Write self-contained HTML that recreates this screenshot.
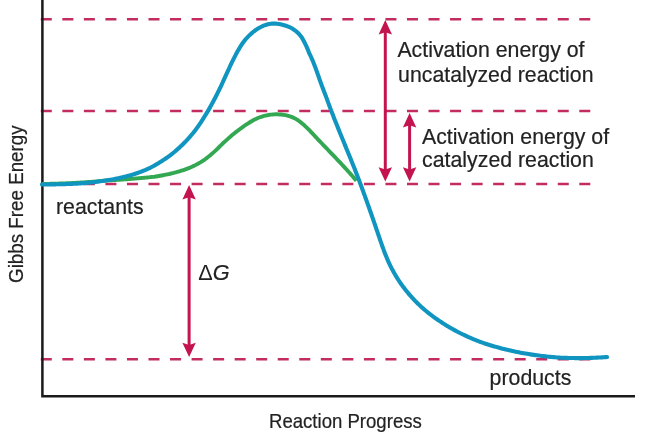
<!DOCTYPE html>
<html><head><meta charset="utf-8"><style>
html,body{margin:0;padding:0;background:#fff;width:655px;height:438px;overflow:hidden}
svg{display:block;filter:blur(0.3px)}
</style></head><body>
<svg width="655" height="438" viewBox="0 0 655 438">
<line x1="40.8" y1="19.2" x2="590.5" y2="19.2" stroke="#c22c60" stroke-width="2.5" stroke-dasharray="11 10.54"/>
<line x1="40.8" y1="111" x2="590.5" y2="111" stroke="#c22c60" stroke-width="2.5" stroke-dasharray="11 10.54"/>
<line x1="40.8" y1="183.9" x2="590.5" y2="183.9" stroke="#c22c60" stroke-width="2.5" stroke-dasharray="11 10.54"/>
<line x1="40.8" y1="359.3" x2="590.5" y2="359.3" stroke="#c22c60" stroke-width="2.5" stroke-dasharray="11 10.54"/>
<path d="M42.4,0 L42.4,396.3 L635,396.3" fill="none" stroke="#1a1a1a" stroke-width="2.5"/>
<path d="M42.00,184.00 L43.46,183.98 L44.91,183.95 L46.36,183.92 L47.82,183.89 L49.27,183.86 L50.72,183.82 L52.17,183.79 L53.62,183.75 L55.07,183.71 L56.52,183.66 L57.97,183.61 L59.42,183.56 L60.87,183.51 L62.31,183.46 L63.76,183.40 L65.20,183.34 L66.65,183.28 L68.09,183.22 L69.54,183.15 L70.98,183.08 L72.42,183.01 L73.87,182.94 L75.31,182.86 L76.75,182.79 L78.19,182.71 L79.63,182.62 L81.07,182.54 L82.51,182.45 L83.95,182.36 L85.39,182.26 L86.83,182.17 L88.27,182.07 L89.71,181.97 L91.15,181.86 L92.59,181.76 L94.02,181.65 L95.46,181.54 L96.90,181.42 L98.34,181.30 L99.77,181.18 L101.21,181.06 L102.65,180.94 L104.09,180.81 L105.52,180.68 L106.96,180.54 L108.40,180.41 L109.83,180.27 L111.27,180.19 L112.71,180.11 L114.14,180.04 L115.58,179.96 L117.02,179.87 L118.46,179.79 L119.89,179.69 L121.33,179.60 L122.77,179.50 L124.21,179.41 L125.64,179.31 L127.08,179.20 L128.52,179.10 L129.96,178.99 L131.40,178.88 L132.84,178.76 L134.28,178.65 L135.72,178.53 L137.16,178.40 L138.60,178.28 L140.04,178.15 L141.48,178.01 L142.92,177.89 L144.36,177.75 L145.81,177.61 L147.25,177.46 L148.69,177.32 L150.14,177.18 L151.58,177.02 L153.02,176.86 L154.47,176.70 L155.91,176.49 L157.35,176.25 L158.80,176.00 L160.24,175.75 L161.67,175.49 L163.11,175.22 L164.54,174.94 L165.97,174.65 L167.39,174.35 L168.81,174.05 L170.23,173.73 L171.64,173.40 L173.05,173.06 L174.45,172.70 L175.85,172.34 L177.24,171.96 L178.62,171.56 L179.99,171.15 L181.36,170.73 L182.72,170.29 L184.08,169.83 L185.42,169.36 L186.76,168.86 L188.08,168.35 L189.40,167.82 L190.71,167.28 L192.01,166.71 L193.29,166.12 L194.57,165.51 L195.83,164.88 L197.08,164.22 L198.32,163.54 L199.55,162.84 L200.77,162.12 L201.97,161.37 L203.16,160.59 L204.33,159.79 L205.49,158.97 L206.64,158.12 L207.78,157.25 L208.90,156.35 L210.02,155.44 L211.13,154.52 L212.23,153.57 L213.32,152.62 L214.40,151.65 L215.48,150.65 L216.56,149.60 L217.63,148.55 L218.70,147.50 L219.77,146.43 L220.84,145.37 L221.91,144.29 L222.97,143.29 L224.05,142.31 L225.12,141.31 L226.20,140.32 L227.28,139.34 L228.36,138.36 L229.46,137.41 L230.56,136.45 L231.67,135.51 L232.78,134.58 L233.91,133.66 L235.04,132.77 L236.19,131.88 L237.34,130.99 L238.51,130.13 L239.68,129.28 L240.86,128.39 L242.06,127.50 L243.26,126.61 L244.47,125.75 L245.70,124.91 L246.94,124.08 L248.19,123.28 L249.45,122.48 L250.72,121.72 L252.00,120.97 L253.30,120.24 L254.60,119.53 L255.93,118.91 L257.26,118.33 L258.60,117.78 L259.96,117.27 L261.33,116.79 L262.71,116.35 L264.10,115.97 L265.50,115.61 L266.91,115.28 L268.32,114.99 L269.75,114.75 L271.17,114.57 L272.60,114.43 L274.03,114.33 L275.46,114.28 L276.88,114.28 L278.31,114.34 L279.72,114.43 L281.13,114.54 L282.53,114.70 L283.93,114.89 L285.31,115.14 L286.67,115.43 L288.03,115.78 L289.36,116.17 L290.68,116.61 L291.98,117.09 L293.26,117.62 L294.52,118.21 L295.75,118.87 L296.96,119.61 L298.14,120.40 L299.31,121.22 L300.45,122.08 L301.58,122.97 L302.69,123.89 L303.78,124.84 L304.86,125.82 L305.93,126.82 L306.98,127.83 L308.02,128.87 L309.05,129.92 L310.08,130.98 L311.10,132.05 L312.11,133.12 L313.12,134.20 L314.12,135.28 L315.13,136.36 L316.13,137.43 L317.13,138.49 L318.13,139.56 L319.13,140.61 L320.14,141.67 L321.14,142.72 L322.13,143.76 L323.13,144.81 L324.13,145.85 L325.13,146.89 L326.12,147.92 L327.12,148.96 L328.11,149.99 L329.11,151.03 L330.10,152.06 L331.09,153.09 L332.08,154.12 L333.07,155.15 L334.06,156.19 L335.05,157.22 L336.03,158.25 L337.02,159.29 L338.00,160.33 L338.99,161.37 L339.97,162.41 L340.95,163.45 L341.92,164.50 L342.90,165.55 L343.88,166.61 L344.85,167.67 L345.82,168.73 L346.79,169.80 L347.76,170.87 L348.73,171.95 L349.69,173.03 L350.66,174.12 L351.62,175.22 L352.58,176.32 L353.54,177.43 L354.49,178.54 L355.45,179.67 L356.40,180.80" fill="none" stroke="#33a852" stroke-width="3.9" stroke-linecap="butt"/>
<path d="M42.00,184.50 L43.64,184.48 L45.28,184.47 L46.92,184.45 L48.57,184.43 L50.22,184.41 L51.87,184.39 L53.53,184.36 L55.19,184.34 L56.85,184.31 L58.52,184.27 L60.19,184.24 L61.86,184.19 L63.53,184.15 L65.21,184.10 L66.88,184.04 L68.56,183.98 L70.24,183.92 L71.92,183.85 L73.60,183.77 L75.28,183.68 L76.97,183.59 L78.65,183.49 L80.33,183.39 L82.01,183.27 L83.69,183.15 L85.37,183.02 L87.05,182.87 L88.73,182.72 L90.41,182.55 L92.09,182.36 L93.76,182.15 L95.43,181.93 L97.10,181.70 L98.77,181.46 L100.44,181.22 L102.10,181.01 L103.76,180.78 L105.42,180.54 L107.07,180.30 L108.72,180.04 L110.37,179.75 L112.01,179.46 L113.65,179.16 L115.28,178.84 L116.91,178.50 L118.53,178.14 L120.15,177.78 L121.77,177.43 L123.37,177.05 L124.98,176.66 L126.57,176.26 L128.17,175.85 L129.75,175.42 L131.33,174.97 L132.90,174.51 L134.47,174.01 L136.02,173.51 L137.57,172.98 L139.12,172.43 L140.65,171.87 L142.18,171.28 L143.70,170.67 L145.21,170.04 L146.71,169.39 L148.21,168.72 L149.69,168.04 L151.17,167.29 L152.64,166.51 L154.09,165.72 L155.54,164.91 L156.98,164.09 L158.41,163.24 L159.83,162.37 L161.23,161.48 L162.63,160.58 L164.02,159.66 L165.39,158.73 L166.76,157.77 L168.11,156.80 L169.45,155.83 L170.78,154.83 L172.10,153.81 L173.40,152.77 L174.70,151.72 L175.98,150.63 L177.24,149.52 L178.50,148.38 L179.74,147.24 L180.97,146.08 L182.18,144.91 L183.39,143.71 L184.57,142.52 L185.75,141.31 L186.90,140.07 L188.05,138.83 L189.18,137.58 L190.29,136.31 L191.40,135.03 L192.48,133.74 L193.55,132.44 L194.60,131.13 L195.64,129.77 L196.66,128.39 L197.67,127.00 L198.66,125.60 L199.63,124.20 L200.59,122.78 L201.53,121.36 L202.45,119.91 L203.36,118.47 L204.24,117.01 L205.13,115.54 L206.06,114.07 L206.97,112.59 L207.86,111.11 L208.75,109.62 L209.61,108.12 L210.46,106.61 L211.31,105.11 L212.14,103.59 L212.96,102.07 L213.76,100.57 L214.56,99.04 L215.35,97.53 L216.12,96.01 L216.89,94.48 L217.66,92.95 L218.40,91.43 L219.15,89.90 L219.89,88.38 L220.63,86.85 L221.36,85.31 L222.05,83.78 L222.75,82.25 L223.45,80.72 L224.14,79.18 L224.83,77.65 L225.53,76.11 L226.21,74.58 L226.91,73.06 L227.61,71.54 L228.31,70.03 L229.01,68.52 L229.72,67.00 L230.44,65.48 L231.15,63.95 L231.88,62.43 L232.62,60.90 L233.37,59.38 L234.13,57.86 L234.90,56.34 L235.69,54.84 L236.50,53.34 L237.31,51.85 L238.11,50.38 L238.95,48.92 L239.81,47.48 L240.70,46.05 L241.62,44.65 L242.57,43.27 L243.56,41.92 L244.58,40.59 L245.65,39.30 L246.75,38.03 L247.89,36.80 L249.08,35.61 L250.30,34.45 L251.56,33.34 L252.80,32.27 L254.06,31.25 L255.36,30.28 L256.69,29.36 L258.04,28.50 L259.41,27.70 L260.79,26.96 L262.21,26.29 L263.62,25.69 L265.03,25.16 L266.45,24.70 L267.89,24.31 L269.33,24.01 L270.79,23.79 L272.26,23.66 L273.85,23.61 L275.44,23.65 L277.04,23.79 L278.71,24.01 L280.54,24.32 L282.35,24.72 L284.14,25.19 L285.92,25.73 L287.67,26.35 L289.41,27.03 L290.84,27.79 L292.23,28.60 L293.60,29.47 L294.93,30.40 L296.23,31.38 L297.44,32.40 L298.50,33.47 L299.52,34.59 L300.49,35.74 L301.42,36.93 L302.19,38.16 L302.93,39.42 L303.64,40.71 L304.32,42.04 L304.98,43.40 L305.67,44.78 L306.34,46.20 L306.98,47.64 L307.60,49.10 L308.19,50.59 L308.77,52.10 L309.46,53.63 L310.22,55.17 L310.95,56.74 L311.66,58.32 L312.36,59.91 L313.02,61.52 L313.69,63.14 L314.31,64.77 L314.94,66.40 L315.56,68.04 L316.15,69.69 L316.76,71.34 L317.34,73.00 L317.91,74.65 L318.50,76.31 L319.07,77.96 L319.64,79.61 L320.23,81.25 L320.81,82.89 L321.41,84.52 L322.01,86.14 L322.61,87.76 L323.22,89.37 L323.83,90.98 L324.45,92.58 L325.08,94.18 L325.71,95.77 L326.30,97.36 L326.86,98.94 L327.43,100.52 L328.01,102.10 L328.58,103.67 L329.16,105.23 L329.75,106.80 L330.33,108.36 L330.92,109.91 L331.51,111.46 L332.11,113.01 L332.71,114.56 L333.31,116.10 L333.91,117.64 L334.51,119.18 L335.12,120.72 L335.73,122.25 L336.34,123.78 L336.95,125.31 L337.56,126.84 L338.18,128.37 L338.80,129.89 L339.41,131.42 L340.03,132.94 L340.65,134.46 L341.27,135.98 L341.90,137.50 L342.52,139.02 L343.14,140.55 L343.77,142.07 L344.39,143.59 L345.01,145.11 L345.64,146.63 L346.26,148.15 L346.88,149.67 L347.51,151.20 L348.13,152.72 L348.75,154.25 L349.38,155.77 L350.00,157.30 L350.62,158.83 L351.24,160.37 L351.85,161.90 L352.47,163.44 L353.08,164.98 L353.70,166.52 L354.31,168.06 L354.92,169.61 L355.53,171.16 L356.13,172.72 L356.74,174.27 L357.34,175.83 L357.94,177.40 L358.54,178.97 L359.13,180.53 L359.73,182.11 L360.32,183.68 L360.91,185.26 L361.50,186.84 L362.08,188.42 L362.67,190.00 L363.25,191.59 L363.83,193.18 L364.40,194.77 L364.98,196.36 L365.55,197.95 L366.13,199.54 L366.70,201.13 L367.27,202.73 L367.83,204.32 L368.40,205.92 L368.96,207.51 L369.52,209.11 L370.08,210.70 L370.64,212.30 L371.20,213.89 L371.75,215.49 L372.30,217.08 L372.86,218.67 L373.41,220.27 L373.95,221.86 L374.50,223.45 L375.05,225.04 L375.59,226.62 L376.13,228.21 L376.67,229.79 L377.21,231.37 L377.75,232.95 L378.29,234.53 L378.82,236.11 L379.36,237.68 L379.89,239.25 L380.43,240.82 L380.97,242.38 L381.51,243.94 L382.05,245.50 L382.61,247.05 L383.17,248.60 L383.74,250.15 L384.32,251.69 L384.91,253.23 L385.51,254.77 L386.12,256.29 L386.75,257.82 L387.39,259.34 L388.05,260.86 L388.73,262.37 L389.43,263.87 L390.14,265.37 L390.88,266.86 L391.64,268.35 L392.42,269.83 L393.22,271.31 L394.04,272.78 L394.89,274.24 L395.75,275.69 L396.63,277.13 L397.53,278.56 L398.44,279.99 L399.38,281.40 L400.33,282.81 L401.31,284.20 L402.29,285.58 L403.30,286.95 L404.32,288.31 L405.36,289.65 L406.41,290.98 L407.48,292.30 L408.56,293.60 L409.66,294.89 L410.77,296.16 L411.90,297.42 L413.04,298.66 L414.19,299.89 L415.35,301.10 L416.53,302.29 L417.72,303.47 L418.92,304.63 L420.14,305.77 L421.37,306.90 L422.60,308.01 L423.86,309.11 L425.12,310.19 L426.39,311.26 L427.68,312.31 L428.97,313.35 L430.28,314.37 L431.60,315.38 L432.92,316.37 L434.26,317.35 L435.61,318.31 L436.97,319.26 L438.34,320.19 L439.71,321.11 L441.10,322.04 L442.50,322.97 L443.90,323.88 L445.32,324.77 L446.74,325.65 L448.18,326.51 L449.62,327.38 L451.07,328.21 L452.52,329.04 L453.99,329.85 L455.46,330.66 L456.94,331.44 L458.43,332.22 L459.93,332.99 L461.43,333.73 L462.94,334.48 L464.46,335.20 L465.98,335.91 L467.51,336.61 L469.04,337.30 L470.59,337.98 L472.13,338.64 L473.69,339.30 L475.25,339.93 L476.81,340.57 L478.38,341.18 L479.96,341.79 L481.54,342.35 L483.12,342.90 L484.71,343.44 L486.31,343.97 L487.90,344.48 L489.51,344.99 L491.11,345.48 L492.72,345.97 L494.34,346.44 L495.95,346.90 L497.57,347.35 L499.20,347.79 L500.82,348.23 L502.45,348.65 L504.08,349.06 L505.72,349.46 L507.35,349.85 L508.99,350.24 L510.63,350.61 L512.27,350.97 L513.91,351.32 L515.56,351.66 L517.20,352.01 L518.85,352.33 L520.50,352.64 L522.15,352.95 L523.80,353.25 L525.45,353.54 L527.10,353.82 L528.75,354.09 L530.40,354.35 L532.05,354.62 L533.70,354.86 L535.36,355.10 L537.01,355.32 L538.67,355.54 L540.32,355.76 L541.98,355.96 L543.64,356.15 L545.30,356.34 L546.95,356.51 L548.61,356.69 L550.27,356.85 L551.93,357.00 L553.59,357.15 L555.25,357.28 L556.92,357.42 L558.58,357.54 L560.24,357.65 L561.91,357.72 L563.57,357.80 L565.23,357.86 L566.90,357.91 L568.57,357.97 L570.23,358.00 L571.90,358.04 L573.57,358.07 L575.23,358.08 L576.90,358.09 L578.57,358.09 L580.24,358.09 L581.91,358.08 L583.58,358.05 L585.25,358.03 L586.92,358.00 L588.59,357.95 L590.26,357.91 L591.93,357.84 L593.61,357.79 L595.28,357.72 L596.95,357.64 L598.63,357.56 L600.30,357.47 L601.98,357.38 L603.65,357.27 L605.33,357.16 L607.00,357.04" fill="none" stroke="#1095c0" stroke-width="4.1" stroke-linecap="round"/>
<line x1="385.3" y1="28.0" x2="385.3" y2="173.6" stroke="#c41450" stroke-width="3"/><path d="M385.3,20.0 L392.0,34.4 L385.3,32.199999999999996 L378.6,34.4 Z" fill="#c41450"/><path d="M385.3,181.6 L392.0,167.2 L385.3,169.39999999999998 L378.6,167.2 Z" fill="#c41450"/>
<line x1="409.6" y1="121.0" x2="409.6" y2="173.6" stroke="#c41450" stroke-width="3"/><path d="M409.6,113.0 L416.3,127.4 L409.6,125.2 L402.90000000000003,127.4 Z" fill="#c41450"/><path d="M409.6,181.6 L416.3,167.2 L409.6,169.39999999999998 L402.90000000000003,167.2 Z" fill="#c41450"/>
<line x1="189.1" y1="193.1" x2="189.1" y2="349.1" stroke="#c41450" stroke-width="3"/><path d="M189.1,185.1 L195.79999999999998,199.5 L189.1,197.3 L182.4,199.5 Z" fill="#c41450"/><path d="M189.1,357.1 L195.79999999999998,342.70000000000005 L189.1,344.90000000000003 L182.4,342.70000000000005 Z" fill="#c41450"/>
<text transform="translate(397.40,56.6) scale(1.015,1.02)" font-size="21" font-family="Liberation Sans, sans-serif" fill="#222222" stroke="#222222" stroke-width="0.2">Activation energy of</text>
<text transform="translate(398.09,81.8) scale(1.015,1.02)" font-size="21" font-family="Liberation Sans, sans-serif" fill="#222222" stroke="#222222" stroke-width="0.2">uncatalyzed reaction</text>
<text transform="translate(422.00,143.7) scale(1.015,1.02)" font-size="21" font-family="Liberation Sans, sans-serif" fill="#222222" stroke="#222222" stroke-width="0.2">Activation energy of</text>
<text transform="translate(422.09,167.3) scale(1.015,1.02)" font-size="21" font-family="Liberation Sans, sans-serif" fill="#222222" stroke="#222222" stroke-width="0.2">catalyzed reaction</text>
<text transform="translate(55.98,213.6) scale(1.015,1.02)" font-size="21" font-family="Liberation Sans, sans-serif" fill="#222222" stroke="#222222" stroke-width="0.2">reactants</text>
<text transform="translate(489.59,384.9) scale(1.015,1.02)" font-size="21" font-family="Liberation Sans, sans-serif" fill="#222222" stroke="#222222" stroke-width="0.2">products</text>
<text transform="translate(268.97,427.9) scale(1.005,1.05)" font-size="18.5" font-family="Liberation Sans, sans-serif" fill="#222222" stroke="#222222" stroke-width="0.2">Reaction Progress</text>
<text transform="translate(23.4,282.91) rotate(-90) scale(1.015,1.065)" font-size="18.5" font-family="Liberation Sans, sans-serif" fill="#222222" stroke="#222222" stroke-width="0.2">Gibbs Free Energy</text>
<text transform="translate(198.2,279.6) scale(1,1.03)" font-size="21.7" font-family="Liberation Sans, sans-serif" fill="#222222" stroke="#222222" stroke-width="0.2"><tspan stroke-width="0">Δ</tspan><tspan font-style="italic">G</tspan></text>
</svg>
</body></html>
